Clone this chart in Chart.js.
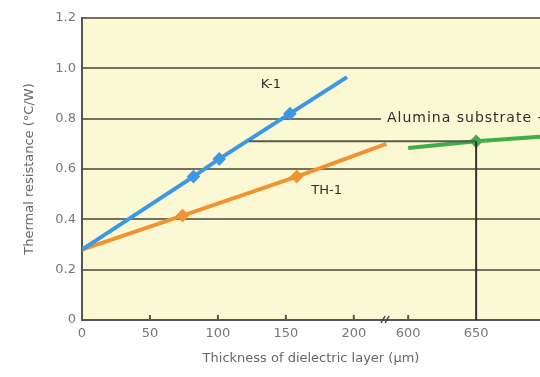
<!DOCTYPE html>
<html>
<head>
<meta charset="utf-8">
<script src="https://cdn.jsdelivr.net/npm/chart.js@4.4.1/dist/chart.umd.min.js"></script>
<style>
  html, body { margin: 0; padding: 0; background: #ffffff; }
  #wrap { width: 540px; height: 377px; }
</style>
</head>
<body>
<div id="wrap"><canvas id="chart" width="540" height="377"></canvas></div>
<script>
// Thickness (um) vs thermal resistance (C/W)
const k1Thickness = [0, 82, 101, 153, 195];
const k1Resistance = [0.28, 0.57, 0.64, 0.82, 0.965];
const th1Thickness = [0, 74, 158, 224];
const th1Resistance = [0.28, 0.415, 0.57, 0.70];
const aluminaThickness = [600, 650, 697];
const aluminaResistance = [0.683, 0.71, 0.728];
const refThickness = [123, 650];
const refResistance = [0.71, 0.71];
const dropThickness = [650, 650];
const dropResistance = [0, 0.71];

const xTickLabels = [0, 50, 100, 150, 200, 600, 650];
const yTickLabels = [0, 0.2, 0.4, 0.6, 0.8, 1.0, 1.2];

// axis is broken between 200 and 600
const BREAK_SHIFT = 360;
function toAxis(t) { return t >= 600 ? t - BREAK_SHIFT : t; }
function fromAxis(v) { return v >= 230 ? v + BREAK_SHIFT : v; }

function pts(xs, ys) {
  return xs.map((x, i) => ({ x: toAxis(x), y: ys[i] }));
}
function markerRadii(n) {
  // markers on inner points only, not on line ends
  return Array.from({ length: n }, (_, i) => (i === 0 || i === n - 1) ? 0 : 4);
}

const BG = '#fbf8d4';
const FONT = "'DejaVu Sans', sans-serif";

const decorations = {
  id: 'decorations',
  beforeDraw(chart) {
    const { ctx, chartArea: a } = chart;
    ctx.save();
    ctx.fillStyle = BG;
    ctx.fillRect(a.left, a.top, a.right - a.left, a.bottom - a.top);
    ctx.restore();
  },
  afterDatasetsDraw(chart) {
    const { ctx, scales: { x, y }, chartArea: a } = chart;
    ctx.save();
    // small inward ticks on x axis
    ctx.strokeStyle = '#555';
    ctx.lineWidth = 2;
    [50, 100, 150, 200, 600].forEach(t => {
      const px = x.getPixelForValue(toAxis(t));
      ctx.beginPath();
      ctx.moveTo(px, a.bottom);
      ctx.lineTo(px, a.bottom - 5);
      ctx.stroke();
    });
    // break mark
    const bx = x.getPixelForValue(223);
    ctx.lineWidth = 1.5;
    ctx.strokeStyle = '#444';
    [-2, 2].forEach(d => {
      ctx.beginPath();
      ctx.moveTo(bx + d - 2, a.bottom + 3);
      ctx.lineTo(bx + d + 2, a.bottom - 4);
      ctx.stroke();
    });

    // labels
    ctx.font = '13px ' + FONT;
    ctx.fillStyle = '#2e2e2e';
    ctx.textBaseline = 'middle';
    ctx.textAlign = 'center';
    ctx.fillText('K-1', x.getPixelForValue(139), y.getPixelForValue(0.934));
    ctx.fillText('TH-1', x.getPixelForValue(180), y.getPixelForValue(0.516));

    const ax = x.getPixelForValue(220);
    const ay = y.getPixelForValue(0.8);
    ctx.fillStyle = BG;
    ctx.fillRect(ax, ay - 8, a.right - ax, 16);
    ctx.fillStyle = '#2e2e2e';
    ctx.textAlign = 'left';
    ctx.font = '14px ' + FONT;
    ctx.letterSpacing = '1px';
    ctx.fillText('Alumina substrate -', ax + 6, ay);
    ctx.restore();
  }
};

new Chart(document.getElementById('chart'), {
  type: 'scatter',
  data: {
    datasets: [
      {
        label: 'Reference',
        data: pts(refThickness, refResistance),
        showLine: true,
        borderColor: '#5a5a50',
        borderWidth: 2,
        pointRadius: 0
      },
      {
        label: 'Drop',
        data: pts(dropThickness, dropResistance),
        showLine: true,
        borderColor: '#333333',
        borderWidth: 2,
        pointRadius: 0
      },
      {
        label: 'K-1',
        data: pts(k1Thickness, k1Resistance),
        showLine: true,
        borderColor: '#3d98e3',
        backgroundColor: '#3d98e3',
        borderWidth: 4,
        pointStyle: 'rectRot',
        pointRadius: markerRadii(k1Thickness.length)
      },
      {
        label: 'TH-1',
        data: pts(th1Thickness, th1Resistance),
        showLine: true,
        borderColor: '#f29332',
        backgroundColor: '#f29332',
        borderWidth: 4,
        pointStyle: 'rectRot',
        pointRadius: markerRadii(th1Thickness.length)
      },
      {
        label: 'Alumina substrate',
        data: pts(aluminaThickness, aluminaResistance),
        showLine: true,
        borderColor: '#3fae4a',
        backgroundColor: '#3fae4a',
        borderWidth: 4,
        pointStyle: 'rectRot',
        pointRadius: markerRadii(aluminaThickness.length)
      }
    ]
  },
  options: {
    responsive: false,
    animation: false,
    layout: { padding: { top: 18, right: 0, left: 0, bottom: 0 } },
    plugins: {
      legend: { display: false },
      tooltip: { enabled: false }
    },
    scales: {
      x: {
        type: 'linear',
        min: 0,
        max: 337,
        afterBuildTicks(scale) {
          scale.ticks = xTickLabels.map(t => ({ value: toAxis(t) }));
        },
        afterFit(scale) { scale.height = 57; },
        ticks: {
          color: '#777',
          font: { family: FONT, size: 13 },
          padding: 6,
          maxRotation: 0,
          callback: v => String(fromAxis(v))
        },
        grid: { color: 'rgba(0,0,0,0)', drawTicks: false },
        border: { display: true, color: '#555', width: 2 },
        title: {
          display: true,
          text: 'Thickness of dielectric layer (\u03bcm)',
          color: '#666',
          font: { family: FONT, size: 13 },
          padding: { top: 0, bottom: 11 }
        }
      },
      y: {
        min: 0,
        max: 1.2,
        afterBuildTicks(scale) {
          scale.ticks = yTickLabels.map(v => ({ value: v }));
        },
        afterFit(scale) { scale.width = 82; },
        ticks: {
          color: '#777',
          font: { family: FONT, size: 13 },
          padding: 6,
          callback: v => v === 0 ? '0' : v.toFixed(1)
        },
        grid: { color: '#74725f', lineWidth: 2, drawTicks: false },
        border: { display: true, color: '#555', width: 2 },
        title: {
          display: true,
          text: 'Thermal resistance (\u00b0C/W)',
          color: '#666',
          font: { family: FONT, size: 13 },
          padding: { top: 22, bottom: 0 }
        }
      }
    }
  },
  plugins: [decorations]
});
</script>
</body>
</html>
